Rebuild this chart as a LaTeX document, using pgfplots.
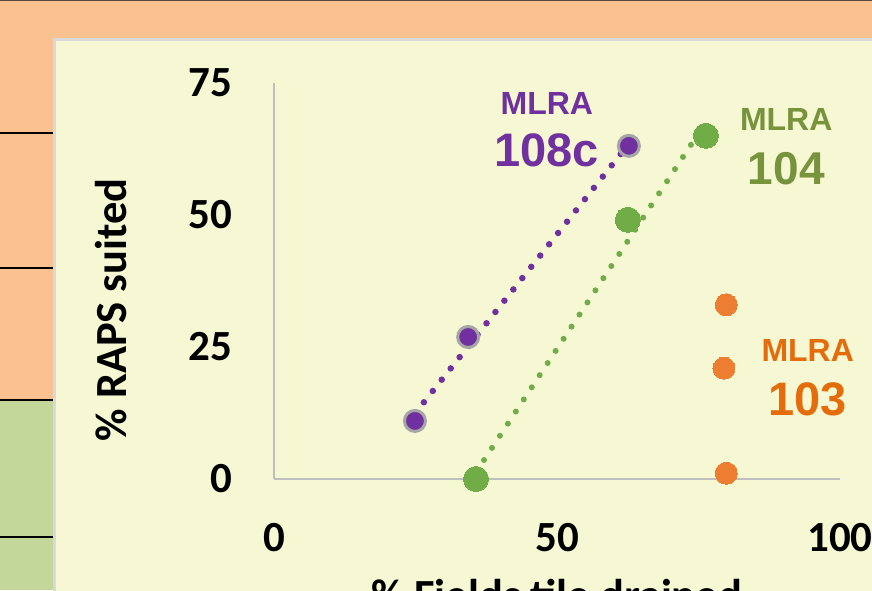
\documentclass[border=0pt]{standalone}
\usepackage{fontspec}
\setmainfont{Carlito}
\newfontfamily\arialfont{Liberation Sans}
\usepackage{pgfplots}
\pgfplotsset{compat=1.18}

\definecolor{bgorange}{HTML}{FAC191}
\definecolor{stripgreen}{HTML}{C4D79B}
\definecolor{chartbg}{HTML}{F5F8D2}
\definecolor{chartborder}{HTML}{D9D9D9}
\definecolor{topline}{HTML}{5A4A42}
\definecolor{axisgray}{HTML}{BFBFBF}
\definecolor{ringgray}{HTML}{A6A6A6}
\definecolor{mpurple}{HTML}{7030A0}
\definecolor{mgreen}{HTML}{70AD47}
\definecolor{morange}{HTML}{ED7D31}
\definecolor{tgreen}{HTML}{77933C}
\definecolor{torange}{HTML}{E46C0A}

\begin{document}
\begin{tikzpicture}[x=1pt,y=1pt]
\begin{scope}
\clip (0,0) rectangle (872,590);
% slide background and table strip
\fill[bgorange] (0,0) rectangle (872,590);
\fill[stripgreen] (0,0) rectangle (53,190);
\draw[black, line width=1.5pt] (0,457)--(53,457) (0,322)--(53,322)
  (0,190)--(53,190) (0,53)--(53,53);
\draw[topline, line width=1.5pt] (0,589.5)--(872,589.5);
\filldraw[fill=chartbg, draw=chartborder, line width=2.5pt] (54.25,-20) rectangle (900,550.5);

\begin{axis}[
  at={(274pt,111pt)}, anchor=south west,
  scale only axis, width=566pt, height=396pt,
  xmin=0, xmax=100, ymin=0, ymax=75,
  axis lines*=left,
  axis line style={draw=axisgray, line width=2.5pt},
  xtick={0,50,100}, ytick={0,25,50,75},
  major tick length=0pt,
  /pgf/number format/assume math mode=true,
  ticklabel style={font=\fontsize{43}{50}\selectfont\bfseries, inner sep=0pt},
  xticklabel style={anchor=north, yshift=-44pt},
  yticklabel style={anchor=east, xshift=-42pt},
  xlabel={\% Fields tile drained},
  ylabel={\% RAPS suited},
  label style={font=\fontsize{44.5}{50}\selectfont\bfseries},
  xlabel style={at={(rel axis cs:0.5,-0.292)}, anchor=center},
  ylabel style={at={(rel axis cs:-0.287,0.427)}, anchor=center},
  clip=false,
]
% MLRA 108c
\addplot[only marks, mark=*, mark size=10.5pt,
  mark options={fill=mpurple, draw=ringgray, line width=3pt}]
  coordinates {(24.9,11.0) (34.3,26.9) (62.7,63.1)};
% MLRA 104
\addplot[only marks, mark=*, mark size=12.5pt,
  mark options={fill=mgreen, draw=mgreen, line width=0pt}]
  coordinates {(35.7,0) (62.5,49.1) (76.3,65.0)};
% MLRA 103
\addplot[only marks, mark=*, mark size=11pt,
  mark options={fill=morange, draw=morange, line width=0pt}]
  coordinates {(79.9,33.0) (79.5,21.0) (79.9,1.1)};
% linear trendlines
\addplot[mpurple, line width=6.5pt, line cap=round, dash pattern=on 0pt off 14.4pt]
  coordinates {(24.9,12.4) (62.7,63.5)};
\addplot[mgreen, line width=6pt, line cap=round, dash pattern=on 0pt off 14.5pt]
  coordinates {(35.7,1.3) (76.3,67.6)};

\node[text=mpurple, font=\arialfont\bfseries\fontsize{32}{36}\selectfont] at (axis cs:48.2,71.2) {MLRA};
\node[text=mpurple, font=\arialfont\bfseries\fontsize{47}{52}\selectfont] at (axis cs:48.2,62.2) {108c};
\node[text=tgreen, font=\arialfont\bfseries\fontsize{32}{36}\selectfont] at (axis cs:90.5,68.0) {MLRA};
\node[text=tgreen, font=\arialfont\bfseries\fontsize{46}{52}\selectfont] at (axis cs:90.5,58.8) {104};
\node[text=torange, font=\arialfont\bfseries\fontsize{32}{36}\selectfont] at (axis cs:94.3,24.4) {MLRA};
\node[text=torange, font=\arialfont\bfseries\fontsize{47}{52}\selectfont] at (axis cs:94.3,15.0) {103};
\end{axis}
\end{scope}
\pgfresetboundingbox
\path[use as bounding box] (0,0) rectangle (872,590);
\end{tikzpicture}
\end{document}
